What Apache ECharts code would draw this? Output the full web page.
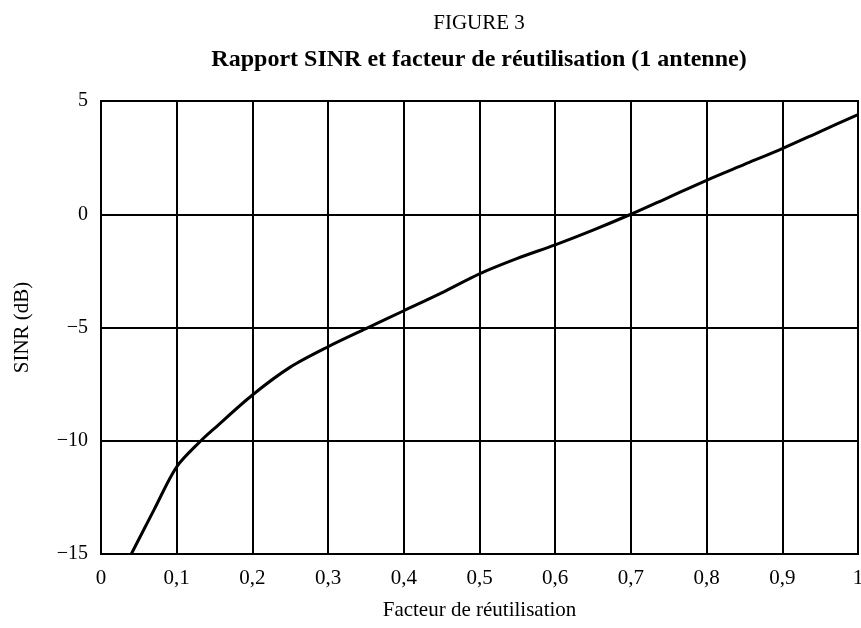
<!DOCTYPE html>
<html>
<head>
<meta charset="utf-8">
<script src="https://cdn.jsdelivr.net/npm/echarts@6/dist/echarts.min.js"></script>
<style>
html,body{margin:0;padding:0;background:#fff;}
#c{width:861px;height:628px;}
</style>
</head>
<body>
<div id="c"></div>
<script>
// Data
var reuseFactor = [0.04, 0.07, 0.1, 0.132, 0.15, 0.2, 0.25, 0.3, 0.35, 0.4, 0.45, 0.5, 0.55, 0.6, 0.65, 0.7, 0.75, 0.8, 0.85, 0.9, 0.95, 1.0];
var sinrDb = [-15, -13.05, -11.15, -10, -9.45, -7.98, -6.75, -5.85, -5.05, -4.26, -3.47, -2.63, -1.95, -1.35, -0.7, 0.0, 0.75, 1.5, 2.2, 2.9, 3.65, 4.4];
var xTicks = [0, 0.1, 0.2, 0.3, 0.4, 0.5, 0.6, 0.7, 0.8, 0.9, 1];
var yTicks = [-15, -10, -5, 0, 5];

var titleText = 'FIGURE 3';
var subtitleText = 'Rapport SINR et facteur de réutilisation (1 antenne)';
var xName = 'Facteur de réutilisation';
var yName = 'SINR (dB)';

var FONT = '"Liberation Serif", "Times New Roman", serif';
var chart = echarts.init(document.getElementById('c'));
var pts = reuseFactor.map(function (x, i) { return [x, sinrDb[i]]; });

chart.setOption({
  backgroundColor: '#fff',
  animation: false,
  title: [
    { text: titleText, left: 474, top: 8, textAlign: 'center',
      textStyle: { fontFamily: FONT, fontWeight: 'normal', fontSize: 21, color: '#000' } },
    { text: subtitleText, left: 474, top: 43, textAlign: 'center',
      textStyle: { fontFamily: FONT, fontWeight: 'bold', fontSize: 24, color: '#000' } }
  ],
  grid: { left: 101, right: 3, top: 101, bottom: 74, containLabel: false,
          outerBoundsMode: 'none',
          show: true, borderColor: '#000', borderWidth: 2 },
  xAxis: {
    type: 'value', min: 0, max: 1, interval: 0.1,
    name: xName, nameLocation: 'middle', nameGap: 46,
    nameTextStyle: { fontFamily: FONT, fontSize: 21, color: '#000' },
    axisLine: { show: true, lineStyle: { color: '#000', width: 2 } },
    axisTick: { show: false },
    splitLine: { show: true, lineStyle: { color: '#000', width: 2 } },
    axisLabel: { fontFamily: FONT, fontSize: 21, color: '#000', margin: 14,
      formatter: function (v) { return String(Math.round(v * 10) / 10).replace('.', ','); } }
  },
  yAxis: {
    type: 'value', min: -15, max: 5, interval: 5,
    name: yName, nameLocation: 'middle', nameGap: 68, nameRotate: 90,
    nameTextStyle: { fontFamily: FONT, fontSize: 21, color: '#000' },
    axisLine: { show: true, lineStyle: { color: '#000', width: 2 } },
    axisTick: { show: false },
    splitLine: { show: true, lineStyle: { color: '#000', width: 2 } },
    axisLabel: { fontFamily: FONT, fontSize: 20, color: '#000', margin: 13,
      formatter: function (v) { return String(v).replace('-', '\u2212'); } }
  },
  series: [{
    type: 'line', data: pts, smooth: 0.3, showSymbol: false,
    lineStyle: { color: '#000', width: 3 }
  }]
});
</script>
</body>
</html>
